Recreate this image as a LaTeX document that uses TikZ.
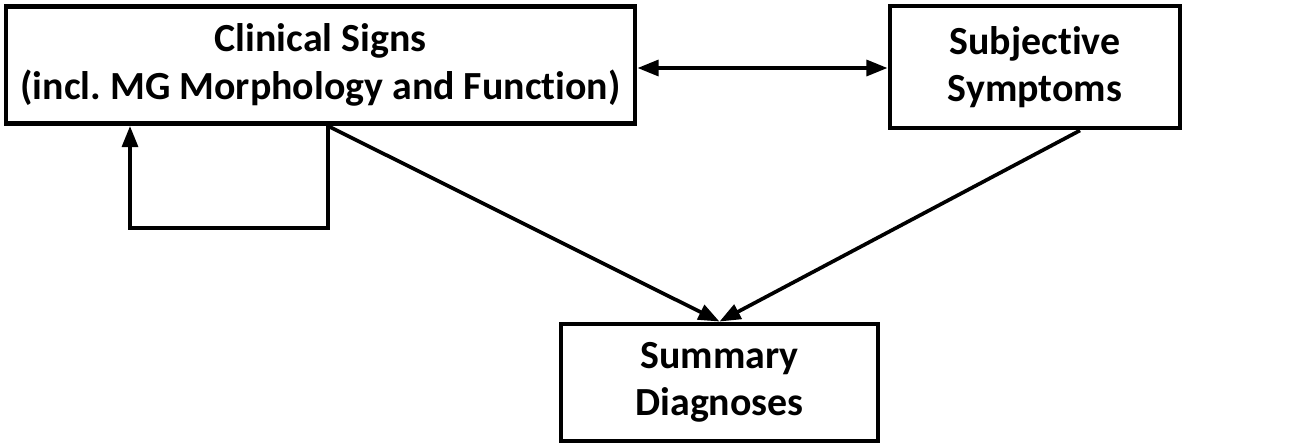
\documentclass[tikz,border=0pt]{standalone}
\usepackage{fontspec}
\setmainfont{Carlito}[Ligatures=NoCommon]
\usepackage{tikz}
\usetikzlibrary{arrows.meta,positioning,calc}

\tikzset{
  boite/.style={draw,line width=2.8pt,align=center,inner sep=0pt,
                font=\fontsize{22.7}{27}\selectfont\bfseries\frenchspacing},
  fleche/.style={line width=2.1pt,-{Triangle[length=12pt,width=9pt]}},
  doublefleche/.style={line width=2.1pt,
                {Triangle[length=12pt,width=9pt]}-{Triangle[length=12pt,width=9pt]}},
}

\begin{document}
\begin{tikzpicture}[x=0.02cm,y=-0.02cm]
  \useasboundingbox (0,0) rectangle (1291,447);

  % Boites
  \node[boite,minimum width=629*0.02cm,minimum height=117*0.02cm] (clin) at (320.5,65)
    {Clinical Signs\\(incl. MG Morphology and Function)};
  \node[boite,minimum width=290*0.02cm,minimum height=122*0.02cm] (subj) at (1035,67)
    {Subjective\\Symptoms};
  \node[boite,minimum width=317*0.02cm,minimum height=117*0.02cm] (summ) at (719.5,382.5)
    {Summary\\Diagnoses};

  % Boucle
  \coordinate (boucleD) at (328,228);
  \coordinate (boucleG) at (130,228);
  \draw[fleche] (clin.south -| boucleD) -- (boucleD) -- (boucleG) -- (boucleG |- clin.south);

  % Liens
  \draw[doublefleche] (clin.east |- 0,68) -- (subj.west |- 0,68);
  \draw[fleche] (clin.south -| boucleD) -- (summ.north);
  \draw[fleche] ([xshift=0.9cm]subj.south) -- (summ.north);
\end{tikzpicture}
\end{document}
